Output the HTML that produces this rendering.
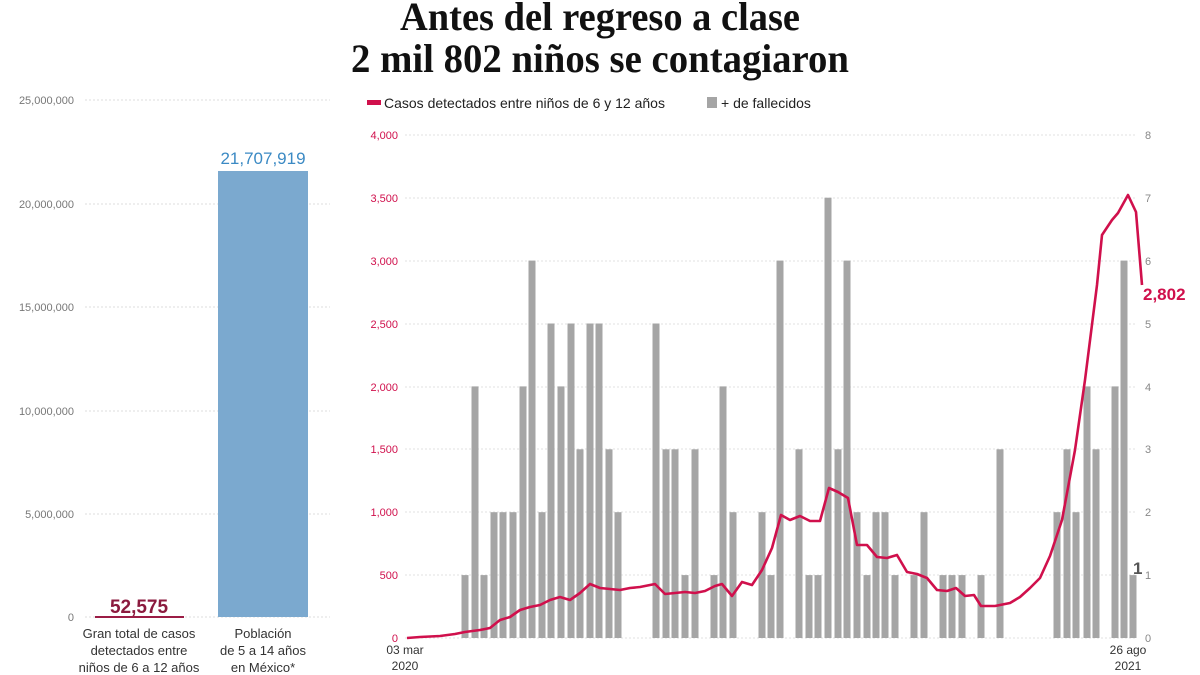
<!DOCTYPE html>
<html><head><meta charset="utf-8"><style>
body{margin:0;background:#fff;}
svg{display:block;font-family:"Liberation Sans","DejaVu Sans",sans-serif;}
</style></head><body>
<svg width="1200" height="675" viewBox="0 0 1200 675">
<g font-family="Liberation Serif,serif" font-weight="bold" fill="#111" text-anchor="middle">
<text x="600" y="30" font-size="40" textLength="400" lengthAdjust="spacingAndGlyphs">Antes del regreso a clase</text>
<text x="600" y="72" font-size="40" textLength="498" lengthAdjust="spacingAndGlyphs">2 mil 802 niños se contagiaron</text>
</g>
<rect x="367" y="100" width="14" height="5" fill="#d0104c"/>
<text x="384" y="108" font-size="14" fill="#222">Casos detectados entre niños de 6 y 12 años</text>
<rect x="707" y="97" width="10" height="11" fill="#a5a5a5"/>
<text x="721" y="108" font-size="14" fill="#222">+ de fallecidos</text>
<g stroke="#ddd" stroke-dasharray="2,2" stroke-width="1">
<line x1="85" y1="100" x2="330" y2="100"/><line x1="85" y1="204" x2="330" y2="204"/>
<line x1="85" y1="307" x2="330" y2="307"/><line x1="85" y1="411" x2="330" y2="411"/>
<line x1="85" y1="514" x2="330" y2="514"/><line x1="85" y1="617" x2="330" y2="617"/>
</g>
<g font-size="11" fill="#777" text-anchor="end">
<text x="74" y="104">25,000,000</text><text x="74" y="208">20,000,000</text>
<text x="74" y="311">15,000,000</text><text x="74" y="415">10,000,000</text>
<text x="74" y="518">5,000,000</text><text x="74" y="621">0</text>
</g>
<rect x="218" y="171" width="90" height="446" fill="#7ba9cf"/>
<text x="263" y="164" font-size="17" fill="#3b8ac4" text-anchor="middle">21,707,919</text>
<line x1="95" y1="617" x2="184" y2="617" stroke="#9b1c45" stroke-width="2"/>
<text x="139" y="613" font-size="19" font-weight="bold" fill="#8b1a3e" text-anchor="middle">52,575</text>
<g font-size="13" fill="#333" text-anchor="middle">
<text x="139" y="638">Gran total de casos</text><text x="139" y="655">detectados entre</text><text x="139" y="672">niños de 6 a 12 años</text>
<text x="263" y="638">Población</text><text x="263" y="655">de 5 a 14 años</text><text x="263" y="672">en México*</text>
</g>
<g stroke="#e2e2e2" stroke-dasharray="2,2">
<line x1="405" y1="135" x2="1135" y2="135"/><line x1="405" y1="198" x2="1135" y2="198"/>
<line x1="405" y1="261" x2="1135" y2="261"/><line x1="405" y1="324" x2="1135" y2="324"/>
<line x1="405" y1="387" x2="1135" y2="387"/><line x1="405" y1="449" x2="1135" y2="449"/>
<line x1="405" y1="512" x2="1135" y2="512"/><line x1="405" y1="575" x2="1135" y2="575"/>
<line x1="405" y1="638" x2="1135" y2="638"/>
</g>
<g font-size="11" fill="#d0104c" text-anchor="end">
<text x="398" y="139">4,000</text><text x="398" y="202">3,500</text><text x="398" y="265">3,000</text>
<text x="398" y="328">2,500</text><text x="398" y="391">2,000</text><text x="398" y="453">1,500</text>
<text x="398" y="516">1,000</text><text x="398" y="579">500</text><text x="398" y="642">0</text>
</g>
<g font-size="11" fill="#888">
<text x="1145" y="139">8</text><text x="1145" y="202">7</text><text x="1145" y="265">6</text>
<text x="1145" y="328">5</text><text x="1145" y="391">4</text><text x="1145" y="453">3</text>
<text x="1145" y="516">2</text><text x="1145" y="579">1</text><text x="1145" y="642">0</text>
</g>
<g fill="#a5a5a5">
<rect x="461.5" y="575.1" width="7" height="62.9"/>
<rect x="471.5" y="386.4" width="7" height="251.6"/>
<rect x="480.5" y="575.1" width="7" height="62.9"/>
<rect x="490.5" y="512.2" width="7" height="125.8"/>
<rect x="499.5" y="512.2" width="7" height="125.8"/>
<rect x="509.5" y="512.2" width="7" height="125.8"/>
<rect x="519.5" y="386.4" width="7" height="251.6"/>
<rect x="528.5" y="260.6" width="7" height="377.4"/>
<rect x="538.5" y="512.2" width="7" height="125.8"/>
<rect x="547.5" y="323.5" width="7" height="314.5"/>
<rect x="557.5" y="386.4" width="7" height="251.6"/>
<rect x="567.5" y="323.5" width="7" height="314.5"/>
<rect x="576.5" y="449.3" width="7" height="188.7"/>
<rect x="586.5" y="323.5" width="7" height="314.5"/>
<rect x="595.5" y="323.5" width="7" height="314.5"/>
<rect x="605.5" y="449.3" width="7" height="188.7"/>
<rect x="614.5" y="512.2" width="7" height="125.8"/>
<rect x="652.5" y="323.5" width="7" height="314.5"/>
<rect x="662.5" y="449.3" width="7" height="188.7"/>
<rect x="671.5" y="449.3" width="7" height="188.7"/>
<rect x="681.5" y="575.1" width="7" height="62.9"/>
<rect x="691.5" y="449.3" width="7" height="188.7"/>
<rect x="710.5" y="575.1" width="7" height="62.9"/>
<rect x="719.5" y="386.4" width="7" height="251.6"/>
<rect x="729.5" y="512.2" width="7" height="125.8"/>
<rect x="758.5" y="512.2" width="7" height="125.8"/>
<rect x="767.5" y="575.1" width="7" height="62.9"/>
<rect x="776.5" y="260.6" width="7" height="377.4"/>
<rect x="795.5" y="449.3" width="7" height="188.7"/>
<rect x="805.5" y="575.1" width="7" height="62.9"/>
<rect x="814.5" y="575.1" width="7" height="62.9"/>
<rect x="824.5" y="197.7" width="7" height="440.3"/>
<rect x="834.5" y="449.3" width="7" height="188.7"/>
<rect x="843.5" y="260.6" width="7" height="377.4"/>
<rect x="853.5" y="512.2" width="7" height="125.8"/>
<rect x="863.5" y="575.1" width="7" height="62.9"/>
<rect x="872.5" y="512.2" width="7" height="125.8"/>
<rect x="881.5" y="512.2" width="7" height="125.8"/>
<rect x="891.5" y="575.1" width="7" height="62.9"/>
<rect x="910.5" y="575.1" width="7" height="62.9"/>
<rect x="920.5" y="512.2" width="7" height="125.8"/>
<rect x="939.5" y="575.1" width="7" height="62.9"/>
<rect x="948.5" y="575.1" width="7" height="62.9"/>
<rect x="958.5" y="575.1" width="7" height="62.9"/>
<rect x="977.5" y="575.1" width="7" height="62.9"/>
<rect x="996.5" y="449.3" width="7" height="188.7"/>
<rect x="1053.5" y="512.2" width="7" height="125.8"/>
<rect x="1063.5" y="449.3" width="7" height="188.7"/>
<rect x="1072.5" y="512.2" width="7" height="125.8"/>
<rect x="1083.5" y="386.4" width="7" height="251.6"/>
<rect x="1092.5" y="449.3" width="7" height="188.7"/>
<rect x="1111.5" y="386.4" width="7" height="251.6"/>
<rect x="1120.5" y="260.6" width="7" height="377.4"/>
<rect x="1129.5" y="575.1" width="7" height="62.9"/>
</g>
<polyline fill="none" stroke="#d0104c" stroke-width="2.6" stroke-linejoin="round" points="407,638 420,637 440,636 455,634 465,632 480,630 490,628 500,620 510,617 520,610 530,607 540,605 550,600 560,597 570,600 580,593 590,584 600,588 610,589 620,590 630,588 640,587 655,584 665,594 675,593 685,592 695,593 705,591 715,586 722,584 732,596 742,582 752,585 762,570 772,548 781,515 790,520 800,516 810,521 820,521 829,488 838,492 848,498 857,545 867,545 877,557 887,558 897,555 907,572 917,574 927,578 937,590 947,591 956,588 965,596 974,595 981,606 995,606 1010,603 1020,597 1030,588 1040,578 1050,556 1062,520 1075,450 1085,380 1097,285 1102,235 1112,220 1118,213 1128,195 1136,212 1142,285"/>
<text x="1143" y="300" font-size="17" font-weight="bold" fill="#d0104c">2,802</text>
<text x="1133" y="574" font-size="17" font-weight="bold" fill="#555">1</text>
<g font-size="12" fill="#333" text-anchor="middle">
<text x="405" y="654">03 mar</text><text x="405" y="670">2020</text>
<text x="1128" y="654">26 ago</text><text x="1128" y="670">2021</text>
</g>
</svg>
</body></html>
